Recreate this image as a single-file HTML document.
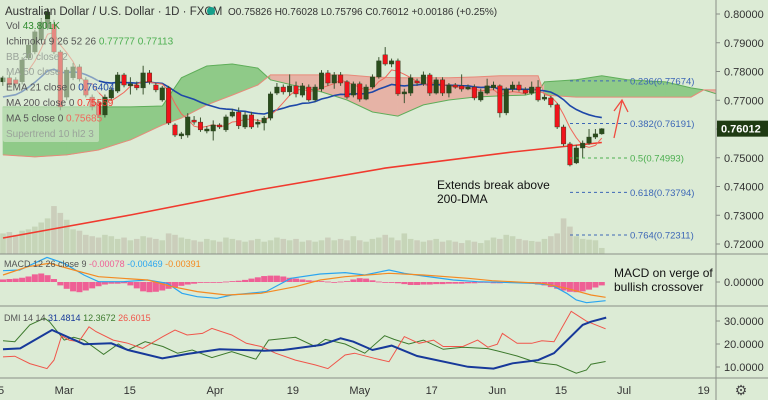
<!DOCTYPE html>
<html><head><meta charset="utf-8"><style>
html,body{margin:0;padding:0;background:#dcebd5;}
svg{display:block;font-family:"Liberation Sans",sans-serif;}
</style></head><body>
<svg id="c" width="768" height="400" viewBox="0 0 768 400"></svg>
<script>
// ---------- DATA ----------
const opens=[.7764,.7778,.7771,.7764,.7847,.7868,.7910,.7952,.7965,.7868,.7711,.7778,.7816,.7771,.7711,.7691,.7649,.7708,.7732,.7788,.7750,.7753,.7743,.7795,.7753,.7701,.7743,.7614,.7576,.7579,.7631,.7624,.7593,.7593,.7614,.7597,.7645,.7659,.7607,.7649,.7617,.7621,.7638,.7725,.7746,.7729,.7750,.7718,.7746,.7701,.7739,.7795,.7760,.7788,.7764,.7718,.7757,.7704,.7746,.7781,.7858,.7826,.7837,.7722,.7725,.7767,.7757,.7788,.7725,.7771,.7725,.7753,.7750,.7739,.7746,.7701,.7725,.7743,.7750,.7656,.7739,.7753,.7736,.7725,.7746,.7704,.7708,.7684,.7607,.7548,.7482,.7534,.7551,.7572,.7583];
const closes=[.7778,.7753,.7757,.7840,.7892,.7938,.7972,.8007,.7868,.7677,.7805,.7816,.7774,.7718,.7677,.7649,.7711,.7736,.7788,.7753,.7757,.7743,.7795,.7764,.7736,.7743,.7621,.7579,.7583,.7642,.7624,.7597,.7600,.7614,.7607,.7642,.7659,.7611,.7649,.7607,.7624,.7638,.7722,.7746,.7729,.7750,.7722,.7750,.7701,.7746,.7795,.7760,.7788,.7760,.7711,.7757,.7704,.7746,.7781,.7837,.7826,.7837,.7722,.7729,.7778,.7760,.7788,.7725,.7771,.7725,.7753,.7746,.7739,.7746,.7708,.7729,.7750,.7753,.7656,.7739,.7753,.7736,.7725,.7746,.7701,.7711,.7684,.7607,.7548,.7475,.7534,.7551,.7572,.7583,.7601];
const highs=[.7785,.7790,.7780,.7850,.7900,.7945,.7985,.8020,.7980,.7875,.7815,.7830,.7825,.7780,.7720,.7700,.7720,.7745,.7798,.7795,.7780,.7765,.7820,.7805,.7760,.7750,.7750,.7620,.7590,.7655,.7645,.7640,.7610,.7630,.7620,.7650,.7670,.7675,.7660,.7660,.7635,.7645,.7730,.7760,.7755,.7790,.7765,.7760,.7755,.7755,.7805,.7805,.7798,.7798,.7770,.7765,.7765,.7755,.7790,.7850,.7885,.7845,.7845,.7740,.7790,.7775,.7800,.7795,.7780,.7780,.7760,.7760,.7790,.7755,.7755,.7740,.7775,.7765,.7755,.7745,.7765,.7765,.7745,.7765,.7770,.7720,.7715,.7690,.7615,.7555,.7545,.7560,.7600,.7600,.7603];
const lows=[.7750,.7745,.7748,.7755,.7840,.7860,.7905,.7945,.7860,.7665,.7700,.7770,.7765,.7710,.7665,.7640,.7640,.7700,.7725,.7745,.7720,.7735,.7720,.7755,.7728,.7695,.7614,.7572,.7565,.7570,.7615,.7590,.7585,.7560,.7600,.7590,.7640,.7600,.7600,.7600,.7605,.7595,.7630,.7718,.7720,.7715,.7710,.7710,.7695,.7695,.7730,.7750,.7740,.7750,.7705,.7710,.7695,.7700,.7740,.7775,.7820,.7815,.7715,.7690,.7715,.7750,.7750,.7715,.7720,.7715,.7710,.7740,.7730,.7735,.7700,.7695,.7720,.7735,.7640,.7648,.7730,.7730,.7720,.7718,.7695,.7698,.7675,.7600,.7540,.7470,.7478,.7500,.7545,.7565,.7580];
const volumes=[150,160,140,170,180,200,230,260,350,300,250,180,170,140,130,120,140,130,110,120,100,110,130,120,110,100,150,140,120,110,100,90,110,100,90,120,110,100,90,100,110,90,100,120,110,100,110,90,100,90,100,120,100,110,100,130,100,90,110,120,140,120,100,150,110,100,90,100,110,90,100,90,80,100,90,80,100,120,110,140,130,110,100,95,90,110,130,150,260,200,130,110,105,100,44];
const cloudIdx=[0,5,10,15,20,25,28,32,36,40,42,46,50,54,58,62,66,70,74,78,82,84,85,90,94,98,104,108,110,113];
const spanA=[.7677,.7677,.7677,.7677,.7677,.7680,.7778,.7819,.7826,.7812,.7771,.7750,.7729,.7701,.7659,.7645,.7684,.7701,.7711,.7715,.7718,.7729,.7764,.7771,.7785,.7771,.7764,.7743,.7736,.7715];
const spanB=[.7510,.7503,.7510,.7527,.7562,.7614,.7638,.7684,.7718,.7753,.7788,.7788,.7788,.7788,.7781,.7778,.7778,.7778,.7781,.7785,.7785,.7785,.7718,.7711,.7711,.7711,.7711,.7711,.7736,.7736];
const ma200Idx=[0,20,40,60,80,94];
const ma200=[.7221,.7301,.7388,.7464,.7520,.7553];
const emaSeed=.7705;
const fibLevels=[0.236,0.382,0.5,0.618,0.764];
const fibPrices=[0.77674,0.76191,0.74993,0.73794,0.72311];
const macdIdx=[0,2.6,6.9,9.6,12.7,15,18.9,22.7,25.8,28.1,30.5,33.6,35.9,41.3,45.2,49.8,53.7,56.8,60.6,63,66,70.7,74.5,78.4,83,86.1,88.5,90,91.6,94.6];
const macdLine=[2.66,2.82,5.8,4.4,1.65,0.08,0.08,0.47,-0.31,-2.67,-3.45,-3.84,-3.06,-2.27,0.86,1.88,2.2,1.65,2.82,2.04,1.41,0.47,0.08,-0.08,-0.31,-0.71,-2.67,-4.24,-4.86,-4.39];
const sigIdx=[0,3.9,7.3,11.1,15,22.7,26.6,30.5,35.1,40.5,45.9,49.8,53.7,60.6,66,73,76.8,84.6,88.5,92.3,94.6];
const sigLine=[1.65,3.61,4.4,2.82,1.25,0.47,-1.1,-2.27,-3.06,-2.67,-1.1,0.47,1.25,2.04,1.65,0.86,0.31,-0.31,-1.49,-3.06,-3.61];
const macdHist=[0.6,0.7,0.8,1.0,1.3,1.8,2.0,1.6,0.7,-0.8,-1.6,-2.2,-2.4,-2.0,-1.5,-1.0,-0.6,-0.4,-0.4,-0.3,-0.8,-1.5,-2.2,-2.4,-2.3,-2.0,-1.6,-1.2,-0.9,-0.6,-0.4,-0.2,-0.1,0,0,0.1,0.2,0.3,0.5,0.8,1.1,1.4,1.5,1.5,1.3,1.0,0.8,0.6,0.4,0.3,0.2,0.1,0,0.1,0.2,0.6,0.9,0.8,0.4,0.1,0,-0.2,-0.3,-0.5,-0.7,-0.7,-0.6,-0.6,-0.5,-0.5,-0.4,-0.4,-0.4,-0.3,-0.3,-0.2,-0.2,-0.3,-0.3,-0.2,-0.2,-0.2,-0.3,-0.4,-0.6,-0.8,-1.2,-1.6,-2.0,-2.3,-2.4,-2.2,-1.8,-1.3,-0.8];
const adxIdx=[0,2.7,7.7,12.7,17,19.6,25,29,34,41,44,50,53,55,58,61,65,73,77,80,84,86.5,91,92.3,94.7];
const adx=[17.7,18.1,26.1,19.9,20.3,17.4,13.8,15.7,17.7,17.1,17.4,19.6,22.5,21,17.4,19.3,14.8,10.1,9.3,11.6,13,16,28.3,29.7,31.5];
const pdiIdx=[0,1.85,4.2,6.5,7.3,9.6,11.1,12.7,15.8,18.1,19.6,22.3,25.1,27.4,29.7,32.8,35.9,39.7,41.7,45.9,49,50.6,53.7,56.8,59.9,61.4,63.7,66,69.1,72.2,76.1,77.6,80.7,83.8,86.9,90,91.6,92.3,94.6];
const pdi=[21.4,21.0,28.3,31.2,29.7,21.7,22.9,21.7,15.5,20.0,17.4,21.0,18.9,16.0,17.4,14.1,16.7,13.4,21.7,22.9,18.9,22.0,20.0,16.0,23.6,22.0,20.0,21.7,17.7,18.6,18.0,17.0,14.8,11.9,10.9,7.3,8.7,11.2,12.4];
const mdiIdx=[0,1.85,4.2,6.9,8.0,9.2,10.4,11.9,13.5,14.6,17.3,19.6,21.9,25.1,27,28.9,31.3,32.8,35.9,38.2,40.5,42.8,45.9,49,51,53.7,55.2,58.3,60.6,63,65.3,67.6,69.1,72.2,74.5,76.1,77.6,78.4,80.7,83,84.6,86.5,89.2,91.6,94.6];
const mdi=[14.4,14.7,11.5,9.3,13.0,23.5,21.7,21.0,27.5,25.4,21.7,20.3,18.1,23.2,26.1,23.9,24.6,26.8,23.9,20.3,18.9,16.0,13.0,10.9,9.3,15.2,16.0,13.8,12.3,23.2,20.3,21.7,18.9,18.9,21.7,18.6,19.9,24.6,20.3,20.3,21.4,21.0,34.2,29.9,26.6];
const priceTicks=[0.80,0.79,0.78,0.77,0.76,0.75,0.74,0.73,0.72];
const dateLabels=["5","Mar","15","Apr","19","May","17","Jun","15","Jul","19"];
const datePos=[-0.3,9.6,19.9,33.3,45.5,56,67.3,77.6,87.6,97.5,110];
const dmiTicks=[30,20,10];

// ---------- SCALES ----------
const NS="http://www.w3.org/2000/svg", svg=document.getElementById('c');
const X=i=>3+i*6.37;
const PY=p=>14+(0.80-p)*2875;
const MY=v=>282-v*4.25;
const DY=v=>321-(v-30)*2.3;
function mk(tag,attrs,parent){const e=document.createElementNS(NS,tag);for(const k in attrs)e.setAttribute(k,attrs[k]);(parent||svg).appendChild(e);return e;}
function line(pts){return pts.map((p,k)=>(k?'L':'M')+p[0].toFixed(1)+','+p[1].toFixed(1)).join('');}

const defs=mk('defs',{});
const cp=mk('clipPath',{id:'mainclip'},defs);mk('rect',{x:0,y:0,width:716,height:254},cp);

const main=mk('g',{'clip-path':'url(#mainclip)'});



volumes.forEach((v,i)=>{
  const h=v/7.3;
  const r=mk('rect',{x:X(i)-2.8,y:254-h,width:5.6,height:h,fill:i>0&&closes[i]<opens[i]?'#c9cbb8':'#c3d3b5',opacity:0.9},main);
  
  
});

for(let k=0;k<cloudIdx.length-1;k++){
  const a0=spanA[k],a1=spanA[k+1],b0=spanB[k],b1=spanB[k+1];
  const green=(a0+a1)>(b0+b1);
  const q=mk('path',{d:line([[X(cloudIdx[k]),PY(a0)],[X(cloudIdx[k+1]),PY(a1)],[X(cloudIdx[k+1]),PY(b1)],[X(cloudIdx[k]),PY(b0)]])+'Z',fill:green?'#8fca88':'#e6b3a6',stroke:green?'#8fca88':'#e6b3a6','stroke-width':0.6},main);
  
  
}
const sa=mk('path',{d:line(cloudIdx.map((c,k)=>[X(c),PY(spanA[k])])),fill:'none',stroke:'#5fae5a','stroke-width':1},main);

const sb=mk('path',{d:line(cloudIdx.map((c,k)=>[X(c),PY(spanB[k])])),fill:'none',stroke:'#e88a7a','stroke-width':1},main);


const m2=mk('path',{d:line(ma200Idx.map((c,k)=>[X(c),PY(ma200[k])])),fill:'none',stroke:'#f03a2e','stroke-width':1.6},main);


let e=emaSeed;const emaPts=[];const al=2/22;
closes.forEach((c,i)=>{e=e+al*(c-e);emaPts.push([X(i),PY(e)]);});
const em=mk('path',{d:line(emaPts),fill:'none',stroke:'#1d47a8','stroke-width':1.6},main);


const ma5Pts=[];
for(let i=4;i<closes.length;i++){let s=0;for(let j=i-4;j<=i;j++)s+=closes[j];ma5Pts.push([X(i),PY(s/5)]);}
const m5=mk('path',{d:line(ma5Pts),fill:'none',stroke:'#f0685c','stroke-width':1},main);


opens.forEach((o,i)=>{
  const c=closes[i],up=c>=o,col=up?'#2a4d1c':'#f0131b';
  const g=mk('g',{},main);
  
  
  mk('line',{x1:X(i),x2:X(i),y1:PY(highs[i]),y2:PY(lows[i]),stroke:'#3d5533','stroke-width':1},g);
  const t=PY(Math.max(o,c)),b=PY(Math.min(o,c));
  mk('rect',{x:X(i)-2.3,y:t,width:4.6,height:Math.max(1.2,b-t),fill:col,stroke:'#2a3d20','stroke-width':0.4},g);
});

fibPrices.forEach((p,k)=>{
  const col=k==2?'#4caf50':'#3d67b6';
  const l=mk('line',{x1:570,x2:627,y1:PY(p),y2:PY(p),stroke:col,'stroke-dasharray':'3,3','stroke-width':1},main);
  
  const t=mk('text',{x:630,y:PY(p)+3.5,'font-size':9.5,fill:col},main);
  t.textContent=fibLevels[k]+'('+p.toFixed(5)+')';
  
});

const arr=mk('path',{d:'M614,138 L622,101 M614,111 L622,100 L628,112',fill:'none',stroke:'#f04b40','stroke-width':1.3},main);


function txt(x,y,s,size,fill,name,anchor){const t=mk('text',{x:x,y:y,'font-size':size,fill:fill,'text-anchor':anchor||'start'});t.textContent=s;return t;}
txt(437,189,'Extends break above',12,'#111','annotation-200dma');
txt(437,203,'200-DMA',12,'#111','annotation-200dma-2');
txt(614,277,'MACD on verge of',12,'#111','annotation-macd');
txt(614,291,'bullish crossover',12,'#111','annotation-macd-2');

macdHist.forEach((v,i)=>{
  const y0=MY(0),y1=MY(v);
  const r=mk('rect',{x:X(i)-3,y:Math.min(y0,y1),width:6,height:Math.max(0.8,Math.abs(y1-y0)),fill:'#ef5f95'});
  
});
const ml=mk('path',{d:line(macdIdx.map((c,k)=>[X(c),MY(macdLine[k])])),fill:'none',stroke:'#2aa5f0','stroke-width':1.2});

const sl=mk('path',{d:line(sigIdx.map((c,k)=>[X(c),MY(sigLine[k])])),fill:'none',stroke:'#f48a22','stroke-width':1.2});


const pd=mk('path',{d:line(pdiIdx.map((c,k)=>[X(c),DY(pdi[k])])),fill:'none',stroke:'#3d7a2d','stroke-width':1});

const md=mk('path',{d:line(mdiIdx.map((c,k)=>[X(c),DY(mdi[k])])),fill:'none',stroke:'#f0554a','stroke-width':1});

const ad=mk('path',{d:line(adxIdx.map((c,k)=>[X(c),DY(adx[k])])),fill:'none',stroke:'#17399a','stroke-width':2});


[[0,254,768,254],[0,306,768,306],[0,378,768,378],[716,0,716,400]].forEach(s=>{
  const l=mk('line',{x1:s[0],y1:s[1],x2:s[2],y2:s[3],stroke:'#8a8f88','stroke-width':1});
  
});

priceTicks.forEach(p=>{
  mk('line',{x1:716,x2:720,y1:PY(p),y2:PY(p),stroke:'#8a8f88'});
  txt(724,PY(p)+4,p.toFixed(5),11,'#333','price-tick-label');
});
const pl=mk('rect',{x:717,y:PY(0.76012)-8,width:51,height:16,fill:'#1f3b13'});

const plt=txt(721,PY(0.76012)+4,'0.76012',11,'#fff','last-price-label');plt.setAttribute('font-weight','bold');
mk('line',{x1:716,x2:720,y1:MY(0),y2:MY(0),stroke:'#8a8f88'});
txt(724,MY(0)+4,'0.00000',11,'#333','macd-tick-label');
dmiTicks.forEach(v=>{mk('line',{x1:716,x2:720,y1:DY(v),y2:DY(v),stroke:'#8a8f88'});txt(724,DY(v)+4,v.toFixed(4),11,'#333','dmi-tick-label');});

dateLabels.forEach((d,k)=>txt(X(datePos[k]),394,d,11,'#333','date-tick-label','middle'));
const gear=txt(741,395,'⚙',14,'#444','settings-icon','middle');

const lbg=mk('rect',{x:3,y:19,width:96,height:123,fill:'#dcebd5',opacity:0.55,rx:2});

txt(5,15,'Australian Dollar / U.S. Dollar · 1D · FXCM',11.5,'#333','chart-title');
const dot=mk('circle',{cx:211,cy:11,r:4,fill:'#16a08c'});
txt(228,15,'O0.75826 H0.76028 L0.75796 C0.76012 +0.00186 (+0.25%)',10,'#333','ohlc-values');
const leg=[['Vol ','#555','43.801K','#2e8b2e'],['Ichimoku 9 26 52 26 ','#555','0.77777 0.77113','#4caf50'],['BB 20 close 2','#9aa39a','',''],['MA 50 close','#9aa39a','',''],['EMA 21 close 0 ','#555','0.76404','#1d47a8'],['MA 200 close 0 ','#555','0.75559','#f03a2e'],['MA 5 close 0 ','#555','0.75685','#f0685c'],['Supertrend 10 hl2 3','#9aa39a','','']];
leg.forEach((l,k)=>{
  const t=mk('text',{x:6,y:29+k*15.4,'font-size':10});
  
  
  const a=mk('tspan',{fill:l[1]},t);a.textContent=l[0];
  const b=mk('tspan',{fill:l[3]},t);b.textContent=l[2];
});
const tm=mk('text',{x:4,y:267,'font-size':9});
[['MACD 12 26 close 9 ','#555'],['-0.00078 ','#ef5f95'],['-0.00469 ','#2aa5f0'],['-0.00391','#f48a22']].forEach(s=>{const a=mk('tspan',{fill:s[1]},tm);a.textContent=s[0];});
const td=mk('text',{x:4,y:321,'font-size':9});
[['DMI 14 14 ','#555'],['31.4814 ','#17399a'],['12.3672 ','#3d7a2d'],['26.6015','#f0554a']].forEach(s=>{const a=mk('tspan',{fill:s[1]},td);a.textContent=s[0];});
</script>
</body></html>
